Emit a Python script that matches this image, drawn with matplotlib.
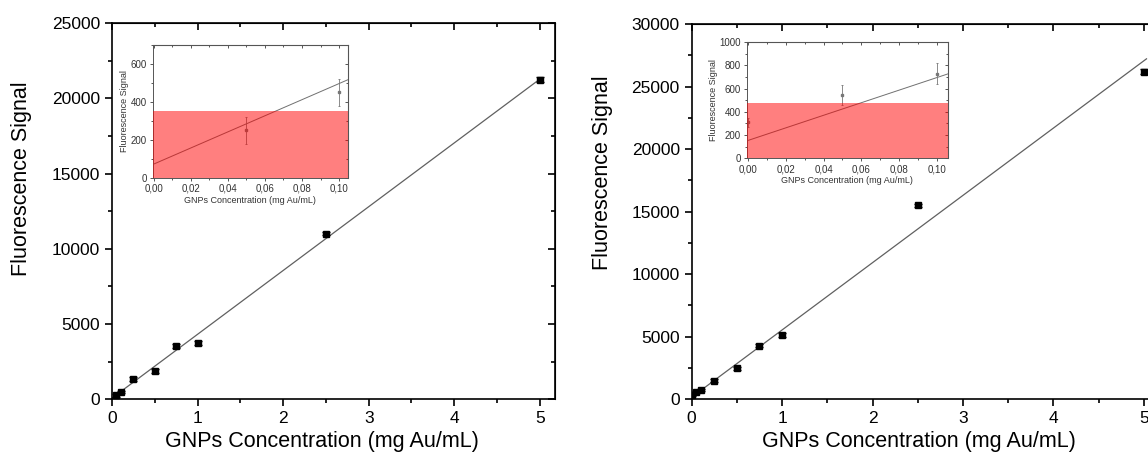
import numpy as np
import matplotlib
matplotlib.use('Agg')
import matplotlib.pyplot as plt
from matplotlib.ticker import MultipleLocator, FuncFormatter

plt.rcParams['font.family'] = ['Liberation Sans', 'DejaVu Sans']

# left panel data
conc_a = [0.05, 0.1, 0.25, 0.5, 0.75, 1.0, 2.5, 5.0]
signal_a = [250, 450, 1340, 1880, 3540, 3720, 11000, 21230]
err_a = [73, 72, 110, 110, 120, 120, 110, 170]
fit_a = (4240, 73)      # slope, intercept
lod_a = 355

# right panel data
conc_b = [0.0, 0.05, 0.1, 0.25, 0.5, 0.75, 1.0, 2.5, 5.0]
signal_b = [310, 545, 725, 1470, 2480, 4270, 5120, 15500, 26200]
err_b = [40, 85, 90, 120, 130, 130, 140, 140, 180]
fit_b = (5380, 155)
lod_b = 475

xlabel = 'GNPs Concentration (mg Au/mL)'
ylabel = 'Fluorescence Signal'


def style_axes(ax, fs, major, minor, lw):
    ax.tick_params(which='both', direction='out', top=False, right=False,
                   labelsize=fs, width=lw)
    ax.tick_params(which='major', length=major)
    ax.tick_params(which='minor', length=minor)
    for s in ax.spines.values():
        s.set_linewidth(lw)
    # mirrored ticks pointing inwards on top/right
    sec_x = ax.secondary_xaxis('top')
    sec_y = ax.secondary_yaxis('right')
    for sec in (sec_x, sec_y):
        sec.tick_params(which='both', direction='in', width=lw,
                        labeltop=False, labelright=False)
        sec.tick_params(which='major', length=major)
        sec.tick_params(which='minor', length=minor)
    return sec_x, sec_y


def main_panel(ax, x, y, e, fit, ymax, xend, xl_pos, yl_pos):
    xs = np.array([0, xend])
    ax.plot(xs, fit[0] * xs + fit[1], color='#606060', lw=0.9, zorder=2)
    ax.errorbar(x, y, yerr=e, fmt='s', color='black', ms=4.5,
                capsize=3, elinewidth=1, capthick=1, zorder=3)
    ax.set_xlim(0, 5.18)
    ax.set_ylim(0, ymax)
    ax.xaxis.set_major_locator(MultipleLocator(1))
    ax.xaxis.set_minor_locator(MultipleLocator(0.5))
    ax.yaxis.set_major_locator(MultipleLocator(5000))
    ax.yaxis.set_minor_locator(MultipleLocator(2500))
    sx, sy = style_axes(ax, 12.5, 5, 3, 1.2)
    sx.xaxis.set_major_locator(MultipleLocator(1))
    sx.xaxis.set_minor_locator(MultipleLocator(0.5))
    sy.yaxis.set_major_locator(MultipleLocator(5000))
    sy.yaxis.set_minor_locator(MultipleLocator(2500))
    ax.set_xlabel(xlabel, fontsize=15.5)
    ax.set_ylabel(ylabel, fontsize=15.5)
    ax.xaxis.set_label_coords(*xl_pos)
    ax.yaxis.set_label_coords(*yl_pos)


def inset_panel(ax, x, y, e, fit, lod, xmin, xmax, ymax):
    gray = '#555555'
    xs = np.array([xmin, xmax])
    ax.plot(xs, fit[0] * xs + fit[1], color='#707070', lw=0.7, zorder=2)
    ax.errorbar(x, y, yerr=e, fmt='s', color='#777777', ms=1.8,
                capsize=1, elinewidth=0.6, capthick=0.6, zorder=2)
    ax.axhspan(0, lod, color='red', alpha=0.5, lw=0, zorder=3)
    ax.set_xlim(xmin, xmax)
    ax.set_ylim(0, ymax)
    ax.xaxis.set_major_locator(MultipleLocator(0.02))
    ax.xaxis.set_minor_locator(MultipleLocator(0.01))
    ax.yaxis.set_major_locator(MultipleLocator(200))
    ax.yaxis.set_minor_locator(MultipleLocator(100))
    ax.xaxis.set_major_formatter(FuncFormatter(lambda v, p: f'{v:.2f}'.replace('.', ',')))
    sx, sy = style_axes(ax, 7, 2.5, 1.5, 0.7)
    sx.xaxis.set_major_locator(MultipleLocator(0.02))
    sx.xaxis.set_minor_locator(MultipleLocator(0.01))
    sy.yaxis.set_major_locator(MultipleLocator(200))
    sy.yaxis.set_minor_locator(MultipleLocator(100))
    for s in ax.spines.values():
        s.set_color(gray)
    ax.tick_params(which='both', colors=gray, labelcolor='#333333', pad=1.5)
    for sec in (sx, sy):
        sec.tick_params(which='both', colors=gray)
        for s in sec.spines.values():
            s.set_color(gray)
    ax.set_xlabel(xlabel, fontsize=6.5, color='#333333', labelpad=1.5)
    ax.set_ylabel(ylabel, fontsize=6.5, color='#333333', labelpad=1.5)


fig = plt.figure(figsize=(11.48, 4.62), dpi=100)

ax1 = fig.add_axes([0.0976, 0.136, 0.386, 0.814])
main_panel(ax1, conc_a, signal_a, err_a, fit_a, 25000, 5.0,
           (0.474, -0.085), (-0.181, 0.585))

ax2 = fig.add_axes([0.6025, 0.136, 0.408, 0.812])
main_panel(ax2, conc_b, signal_b, err_b, fit_b, 30000, 5.03,
           (0.486, -0.085), (-0.168, 0.604))

in1 = fig.add_axes([0.133, 0.6147, 0.170, 0.288])
inset_panel(in1, conc_a[:2], signal_a[:2], err_a[:2], fit_a, lod_a,
            -0.0005, 0.1047, 700)

in2 = fig.add_axes([0.6504, 0.657, 0.1753, 0.2524])
inset_panel(in2, conc_b[:3], signal_b[:3], err_b[:3], fit_b, lod_b,
            -0.0008, 0.106, 1000)

fig.savefig('out.png', dpi=100)
